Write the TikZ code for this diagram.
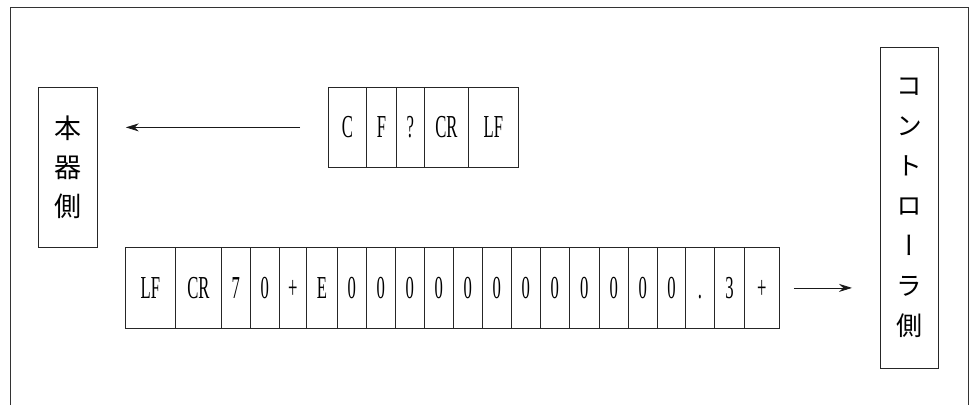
\documentclass[tikz,border=0pt]{standalone}
\usepackage{fontspec}
\usepackage{graphicx}
\usetikzlibrary{arrows.meta}
\setmainfont{Liberation Serif}
\newfontfamily\jpfont{Noto Sans CJK JP}
\newfontfamily\jpvfont[RawFeature=+vert]{Noto Sans CJK JP}
\newcommand\cond[1]{\scalebox{0.52}[1]{#1}}
\begin{document}
\begin{tikzpicture}[x=1pt,y=-1pt,
  cell/.style={draw=black!85, line width=0.8pt, anchor=north west, inner sep=0pt,
    text height=21pt, text depth=0pt, font=\fontsize{32}{32}\selectfont},
  jpbox/.style={draw=black!85, line width=0.8pt, anchor=north west, inner sep=0pt,
    align=center},
  arr/.style={draw=black!90, line width=0.8pt, -{Stealth[length=13pt,width=8pt]}},
  frameline/.style={draw=black!80, line width=0.8pt}]
\useasboundingbox (0,0) rectangle (971,405);
% outer frame (open at the bottom)
\coordinate (fbl) at (10,405);
\coordinate (ftl) at (10,7);
\coordinate (ftr) at (968,7);
\coordinate (fbr) at (968,405);
\draw[frameline] (fbl) -- (ftl) -- (ftr) -- (fbr);
% side boxes
\node[jpbox, minimum width=59pt, minimum height=160pt,
  font=\jpfont\fontsize{27}{39}\selectfont] (hon) at (38,87) {本\\器\\側};
\node[jpbox, minimum width=58pt, minimum height=321pt,
  font=\jpvfont\fontsize{26}{40}\selectfont] (ctl) at (880,47)
  {コ\\ン\\ト\\ロ\\ー\\ラ\\側};
% upper message
\foreach \x/\w/\t [count=\i] in {328/38/C, 366/30/F, 396/28/?, 424/44/CR, 468/50/LF}
  \node[cell, minimum width=\w pt, minimum height=80pt] (t\i) at (\x,87) {\cond{\t}};
% lower message
\foreach \x/\w/\t [count=\i] in {125/50/LF, 175/46/CR, 221/29/7, 250/29/0, 279/27/+,
    306/31/E, 337/29/0, 366/29/0, 395/29/0, 424/29/0, 453/29/0, 482/29/0,
    511/29/0, 540/29/0, 569/30/0, 599/29/0, 628/29/0, 657/28/0, 685/29/., 714/30/3, 744/35/+}
  \node[cell, minimum width=\w pt, minimum height=81pt] (b\i) at (\x,247) {\cond{\t}};
% arrows
\draw[arr, shorten <=28pt, shorten >=28pt] (t1.west) -- (t1.west -| hon.east);
\draw[arr, shorten <=14pt, shorten >=28pt] (b21.east) -- (b21.east -| ctl.west);
\end{tikzpicture}
\end{document}
